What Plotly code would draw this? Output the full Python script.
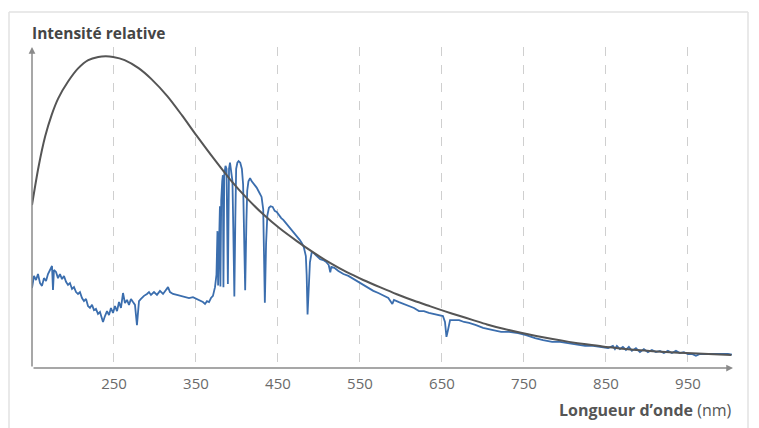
import plotly.graph_objects as go

# ---------------- data ----------------
tick_vals = [250, 350, 450, 550, 650, 750, 850, 950]
tick_text = ["250", "350", "450", "550", "650", "750", "850", "950"]

# black-body style smooth curve (relative intensity)
bb_wl = [150, 158, 166, 174, 182, 194, 206.5, 218.6, 230.8, 240, 249, 263, 280, 296,
         315, 333, 351, 372, 392, 412, 432, 452, 473, 494, 514, 534, 554, 575, 595,
         616, 636, 654, 672, 688, 705, 725, 745, 765, 785, 805, 826, 846, 867, 887,
         907, 928, 948, 975, 1003]
bb_int = [0.524, 0.647, 0.744, 0.814, 0.867, 0.921, 0.964, 0.990, 1.000, 1.002, 1.000,
          0.990, 0.964, 0.928, 0.874, 0.812, 0.746, 0.672, 0.605, 0.546, 0.494, 0.449,
          0.408, 0.370, 0.337, 0.308, 0.283, 0.259, 0.237, 0.216, 0.198, 0.182, 0.167,
          0.154, 0.140, 0.126, 0.114, 0.103, 0.093, 0.084, 0.076, 0.069, 0.063, 0.058,
          0.054, 0.051, 0.048, 0.045, 0.042]

# measured stellar spectrum (relative intensity)
spec_wl = [150, 152.4, 154.9, 157.3, 159.8, 162.2, 164.6, 167.1, 169.5, 172.0, 174.4,
           175.6, 176.8, 179.3, 181.7, 184.1, 186.6, 189.0, 191.5, 193.9, 196.3, 198.8,
           201.2, 203.7, 206.1, 208.5, 211.0, 213.4, 215.9, 218.3, 220.7, 223.2, 225.6,
           228.0, 230.5, 232.9, 235.4, 236.6, 239.0, 241.5, 243.9, 246.3, 248.8, 251.2,
           253.7, 256.1, 258.5, 261.0, 263.4, 265.9, 268.3, 270.7, 273.2, 275.6, 278.0,
           280.5, 282.9, 286.6, 290.2, 292.7, 295.1, 298.8, 302.4, 306.1, 309.8, 313.4,
           315.9, 318.3, 322.0, 326.8, 331.7, 336.6, 341.5, 346.3, 351.2, 354.9, 358.5,
           361.0, 363.4, 365.9, 368.3,
           370.7, 373.2, 375.0, 376.2, 377.0, 378.4, 379.2, 379.8, 380.8, 382.0, 382.8,
           383.5, 384.5, 386.0, 387.3, 388.9, 390.3, 391.5, 393.0, 394.5, 395.5, 396.8,
           398.0, 399.0, 400.5, 402.0, 404.0, 406.0, 407.5, 408.5, 410.0, 411.5, 412.5,
           414.0, 416.0, 418.0, 421.0, 424.0, 427.0, 430.0, 432.0, 433.0, 434.0, 435.5,
           437.0, 439.0, 441.0, 443.5, 446.0, 448.5, 451.0, 454.0, 456.5, 459.0, 461.5,
           464.0, 466.5, 469.0, 471.5, 474.0, 476.5, 479.0, 481.5, 484.0, 485.0, 486.1,
           487.5, 489.0, 491.2, 493.6, 496.1, 499.1, 501.5, 505.2, 508.9, 511.9, 513.8,
           515.1, 518.8, 523.7, 529.8, 535.9, 542.0, 548.0, 554.1, 560.2, 566.3, 572.4,
           578.5, 584.6, 589.5, 591.5, 597.6, 603.7, 609.8, 615.9, 622.0, 628.0, 634.1,
           640.2, 646.3, 651.2, 653.7, 655.5, 657.4, 659.9, 664.8, 670.9, 677.0, 683.1,
           691.6, 700.2, 712.4, 722.2, 731.9, 742.9, 752.6, 763.6, 773.4, 784.4, 794.1,
           803.9, 813.6, 824.6, 834.4, 844.1, 852.7, 858.5, 861.0, 863.4, 867.1, 870.7,
           874.4, 878.0, 881.7, 886.6, 891.5, 896.3, 901.2, 906.1, 911.0, 915.9, 920.7,
           925.6, 930.5, 935.4, 940.2, 945.1, 950.0, 954.9, 959.8, 964.6, 970.7, 979.3,
           989.0, 998.8, 1003.7]
spec_int = [0.257, 0.296, 0.283, 0.302, 0.273, 0.264, 0.289, 0.280, 0.302, 0.315, 0.328,
            0.251, 0.315, 0.309, 0.289, 0.302, 0.286, 0.296, 0.277, 0.267, 0.273, 0.254,
            0.260, 0.244, 0.238, 0.244, 0.225, 0.215, 0.222, 0.199, 0.193, 0.203, 0.186,
            0.190, 0.174, 0.180, 0.161, 0.148, 0.167, 0.183, 0.170, 0.193, 0.177, 0.199,
            0.183, 0.212, 0.193, 0.241, 0.209, 0.219, 0.203, 0.222, 0.212, 0.203, 0.138,
            0.215, 0.222, 0.232, 0.238, 0.244, 0.235, 0.244, 0.235, 0.248, 0.238, 0.251,
            0.260, 0.244, 0.238, 0.235, 0.232, 0.228, 0.225, 0.228, 0.222, 0.219, 0.212,
            0.206, 0.215, 0.212, 0.225,
            0.232, 0.260, 0.300, 0.440, 0.265, 0.470, 0.520, 0.262, 0.540, 0.600, 0.620,
            0.260, 0.620, 0.650, 0.640, 0.270, 0.640, 0.660, 0.630, 0.600, 0.450, 0.230,
            0.480, 0.640, 0.660, 0.665, 0.660, 0.640, 0.590, 0.450, 0.250, 0.470, 0.570,
            0.600, 0.610, 0.600, 0.590, 0.580, 0.565, 0.550, 0.510, 0.400, 0.210, 0.400,
            0.490, 0.515, 0.520, 0.518, 0.505, 0.502, 0.492, 0.482, 0.476, 0.468, 0.460,
            0.453, 0.444, 0.437, 0.431, 0.421, 0.412, 0.402, 0.389, 0.360, 0.300, 0.172,
            0.270, 0.340, 0.373, 0.370, 0.363, 0.357, 0.350, 0.347, 0.341, 0.331, 0.308,
            0.325, 0.322, 0.312, 0.302, 0.296, 0.286, 0.277, 0.267, 0.257, 0.248, 0.241,
            0.232, 0.225, 0.206, 0.219, 0.212, 0.206, 0.199, 0.193, 0.183, 0.183, 0.177,
            0.174, 0.170, 0.167, 0.148, 0.100, 0.122, 0.154, 0.154, 0.154, 0.148, 0.145,
            0.138, 0.129, 0.122, 0.116, 0.116, 0.112, 0.106, 0.096, 0.090, 0.084, 0.084,
            0.080, 0.074, 0.071, 0.071, 0.068, 0.064, 0.071, 0.061, 0.071, 0.061, 0.068,
            0.058, 0.068, 0.055, 0.064, 0.051, 0.061, 0.051, 0.058, 0.051, 0.055, 0.048,
            0.055, 0.048, 0.055, 0.048, 0.051, 0.045, 0.045, 0.039, 0.045, 0.045, 0.047,
            0.045, 0.045, 0.043]

X_MIN, X_MAX = 150, 1005
Y_MIN, Y_MAX = 0, 1.032

# ---------------- figure ----------------
fig = go.Figure()

fig.add_trace(go.Scatter(x=spec_wl, y=spec_int, mode="lines",
                         line=dict(color="#3b6eae", width=1.8),
                         hoverinfo="skip", showlegend=False))
fig.add_trace(go.Scatter(x=bb_wl, y=bb_int, mode="lines",
                         line=dict(color="#555555", width=2, shape="spline", smoothing=0.8),
                         hoverinfo="skip", showlegend=False))

W, H = 759, 428
ML, MR, MT, MB = 32, 26, 47, 60

fig.update_layout(
    width=W, height=H,
    margin=dict(l=ML, r=MR, t=MT, b=MB),
    paper_bgcolor="white", plot_bgcolor="white",
    font=dict(family="Open Sans, sans-serif", color="#666666", size=14),
    xaxis=dict(range=[X_MIN, X_MAX], tickvals=tick_vals, ticktext=tick_text,
               showgrid=True, gridcolor="#cfcfcf", griddash="dash", gridwidth=1,
               zeroline=False, showline=False, ticks="",
               tickfont=dict(size=15, color="#6a6a6a"), ticklabelstandoff=5,
               fixedrange=True),
    yaxis=dict(range=[Y_MIN, Y_MAX], showgrid=False, zeroline=False,
               showline=False, showticklabels=False, ticks="", fixedrange=True),
)

plot_w = W - ML - MR
plot_h = H - MT - MB

def px_to_paper_x(px):
    return (px - ML) / plot_w

def px_to_paper_y(py):
    return (H - MB - py) / plot_h

# axes with arrowheads
fig.add_annotation(x=X_MAX, y=0, ax=X_MIN, ay=0, xref="x", yref="y", axref="x", ayref="y",
                   showarrow=True, arrowhead=2, arrowsize=0.9, arrowwidth=1.5,
                   arrowcolor="#8a8a8a", text="")
fig.add_annotation(x=X_MIN, y=Y_MAX, ax=X_MIN, ay=0, xref="x", yref="y", axref="x", ayref="y",
                   showarrow=True, arrowhead=2, arrowsize=0.9, arrowwidth=1.5,
                   arrowcolor="#8a8a8a", text="")

# titles
fig.add_annotation(x=px_to_paper_x(30), y=px_to_paper_y(33), xref="paper", yref="paper",
                   xanchor="left", yanchor="middle", showarrow=False,
                   text="<b>Intensité relative</b>",
                   font=dict(size=15.5, color="#454545", family="Open Sans, sans-serif"))
fig.add_annotation(x=px_to_paper_x(734), y=px_to_paper_y(410), xref="paper", yref="paper",
                   xanchor="right", yanchor="middle", showarrow=False,
                   text="<b>Longueur d’onde</b> (nm)",
                   font=dict(size=16, color="#555555", family="Open Sans, sans-serif"))

# light frame around the figure
frame_col = "#e2e2e2"
fig.add_shape(type="line", xref="paper", yref="paper",
              x0=px_to_paper_x(9), x1=px_to_paper_x(9), y0=px_to_paper_y(12), y1=px_to_paper_y(428),
              line=dict(color=frame_col, width=1.5))
fig.add_shape(type="line", xref="paper", yref="paper",
              x0=px_to_paper_x(9), x1=px_to_paper_x(748), y0=px_to_paper_y(12), y1=px_to_paper_y(12),
              line=dict(color=frame_col, width=1.5))
fig.add_shape(type="line", xref="paper", yref="paper",
              x0=px_to_paper_x(748), x1=px_to_paper_x(748), y0=px_to_paper_y(12), y1=px_to_paper_y(428),
              line=dict(color=frame_col, width=1.5))

fig.write_html("out.html", config={"displayModeBar": False},
               post_script="document.body.style.margin='0';document.body.style.padding='0';")
